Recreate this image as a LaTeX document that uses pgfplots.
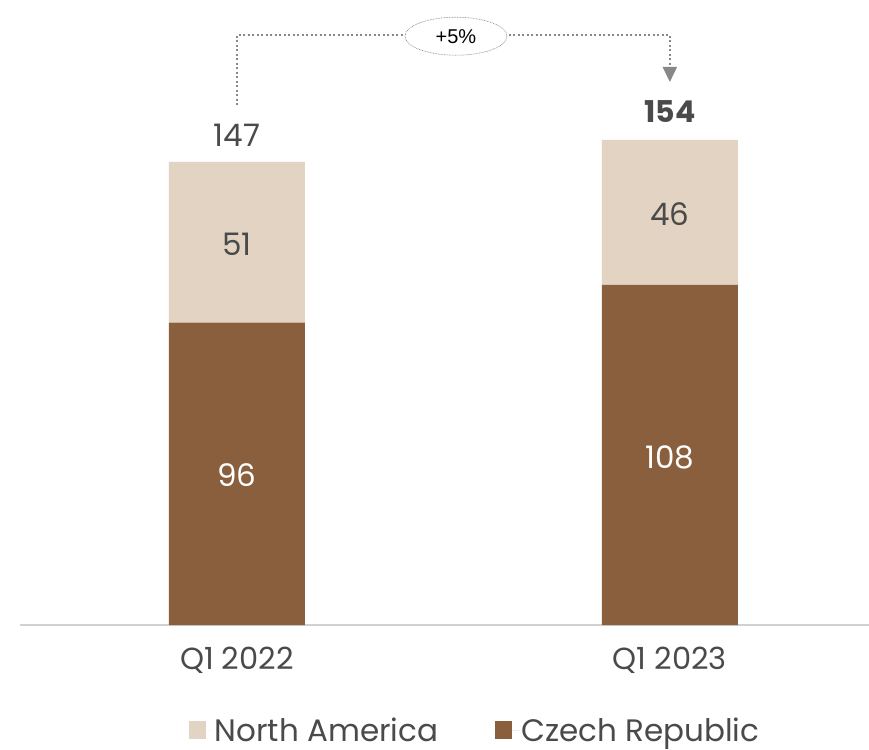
\documentclass[border=0pt]{standalone}
\usepackage{pgfplots}
\pgfplotsset{compat=1.18}
\usepackage{fontspec}
\setmainfont{Poppins}
\newfontfamily\arialfont{Liberation Sans}
\usetikzlibrary{arrows.meta,shapes.geometric}
\definecolor{dark}{HTML}{8A5F3D}
\definecolor{light}{HTML}{E3D3C2}
\definecolor{txt}{HTML}{4A4A4A}
\definecolor{annot}{HTML}{888888}
\begin{document}
\begin{tikzpicture}
\begin{axis}[
  name=ax,
  scale only axis, width=849pt, height=625pt,
  xmin=-0.501, xmax=1.46, ymin=0, ymax=198.4,
  ybar stacked, bar width=0.314,
  axis x line=bottom, axis y line=none,
  x axis line style={draw=black!18, line width=1.5pt, -},
  xtick={0,1}, xticklabels={Q1 2022, Q1 2023}, major tick length=0pt,
  xticklabel style={font=\fontsize{30.5}{34}\selectfont, text=txt, anchor=base, yshift=-44pt},
  clip=false,
  legend style={at={(0.536,-0.168)}, anchor=center, draw=none, legend columns=2,
    font=\fontsize{31}{36}\selectfont, text=txt,
    /tikz/every even column/.append style={column sep=55pt}},
  legend cell align=left,
  reverse legend,
  area legend,
  legend image code/.code={\fill[#1, draw=none] (0pt,-9pt) rectangle (17pt,9pt); \path (0pt,0pt) -- (24pt,0pt);},
]
\addplot[fill=dark, draw=none] coordinates {(0,96) (1,108)};
\addlegendentry{Czech Republic}
\addplot[fill=light, draw=none] coordinates {(0,51) (1,46)};
\addlegendentry{North America}

\coordinate (l96) at (axis cs:0,47.5);
\coordinate (l108) at (axis cs:1,53.3);
\coordinate (l51) at (axis cs:0,121);
\coordinate (l46) at (axis cs:1,130.5);
\coordinate (l147) at (axis cs:0,155.5);
\coordinate (l154) at (axis cs:1,163);
\coordinate (a0) at (axis cs:0,165);
\coordinate (a1) at (axis cs:1,187.3);
\coordinate (a2) at (axis cs:1,177);
\coordinate (t1) at (axis cs:0.983,177.2);
\coordinate (t2) at (axis cs:1.017,177.2);
\coordinate (t3) at (axis cs:1,172.4);
\coordinate (e) at (axis cs:0.506,186.9);
\end{axis}
\node[text=white, font=\fontsize{31}{36}\selectfont] at (l96) {96};
\node[text=white, font=\fontsize{31}{36}\selectfont] at (l108) {108};
\node[text=txt, font=\fontsize{31}{36}\selectfont] at (l51) {51};
\node[text=txt, font=\fontsize{31}{36}\selectfont] at (l46) {46};
\node[text=txt, font=\fontsize{31}{36}\selectfont] at (l147) {147};
\node[text=txt, font=\fontsize{30}{36}\selectfont\bfseries] at (l154) {154};
\draw[annot, line width=2pt, dash pattern=on 2pt off 2.5pt] (a0) |- (a1) -- (a2);
\fill[annot] (t1) -- (t2) -- (t3) -- cycle;
\node[ellipse, draw=annot, line width=0.6pt, dash pattern=on 0.8pt off 0.8pt, fill=white,
  minimum width=102pt, minimum height=38pt, inner sep=0pt,
  font=\arialfont\fontsize{20}{24}\selectfont] at (e) {+5\%};
\pgfresetboundingbox
\path[use as bounding box] ([xshift=-20pt,yshift=-124pt]ax.south west) rectangle (ax.north east);
\end{tikzpicture}
\end{document}
